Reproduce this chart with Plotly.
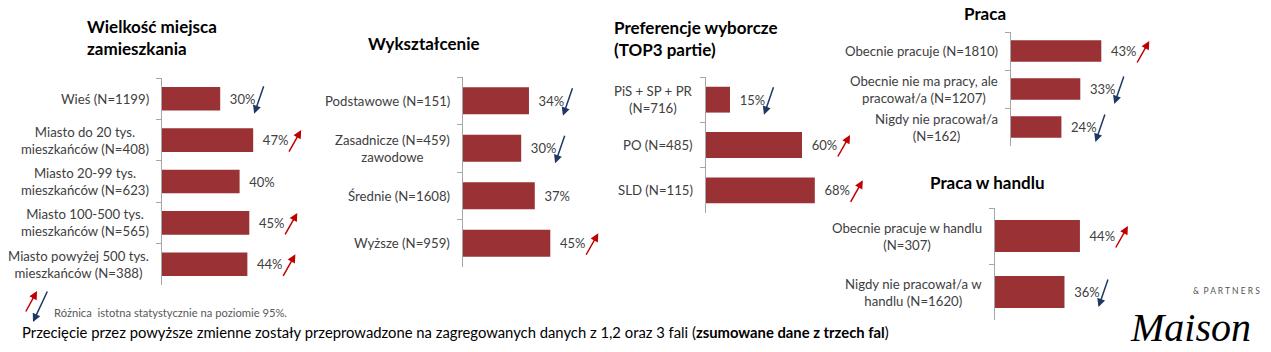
import plotly.graph_objects as go

# ---------------- data ----------------
p1_title = "Wielkość miejsca<br>zamieszkania"
p1_cats = ["Wieś (N=1199)", "Miasto do 20 tys.<br>mieszkańców (N=408)",
           "Miasto 20-99 tys.<br>mieszkańców (N=623)", "Miasto 100-500 tys.<br>mieszkańców (N=565)",
           "Miasto powyżej 500 tys.<br>mieszkańców (N=388)"]
p1_vals = [30, 47, 40, 45, 44]
p1_sig = ["down", "up", "", "up", "up"]

p2_title = "Wykształcenie"
p2_cats = ["Podstawowe (N=151)", "Zasadnicze (N=459)<br>zawodowe", "Średnie (N=1608)", "Wyższe (N=959)"]
p2_vals = [34, 30, 37, 45]
p2_sig = ["down", "down", "", "up"]

p3_title = "Preferencje wyborcze<br>(TOP3 partie)"
p3_cats = ["PiS + SP + PR<br>(N=716)", "PO (N=485)", "SLD (N=115)"]
p3_vals = [15, 60, 68]
p3_sig = ["down", "up", "up"]

p4_title = "Praca"
p4_cats = ["Obecnie pracuje (N=1810)", "Obecnie nie ma pracy, ale<br>pracował/a (N=1207)",
           "Nigdy nie pracował/a<br>(N=162)"]
p4_vals = [43, 33, 24]
p4_sig = ["up", "down", "down"]

p5_title = "Praca w handlu"
p5_cats = ["Obecnie pracuje w handlu<br>(N=307)", "Nigdy nie pracował/a w<br>handlu (N=1620)"]
p5_vals = [44, 36]
p5_sig = ["up", "down"]

legend_text = "Różnica  istotna statystycznie na poziomie 95%."
footer_text = ("Przecięcie przez powyższe zmienne zostały przeprowadzone na zagregowanych danych "
               "z 1,2 oraz 3 fali (<b>zsumowane dane z trzech fal</b>)")

# ---------------- style / layout ----------------
W, H = 1271, 352
FONT = "Lato"
BAR = "#9a3134"
TXT = "#404040"
RED = "#c00000"
BLUE = "#1f3864"
AXC = "#a6a6a6"

panels = [
    dict(title=p1_title, cats=p1_cats, vals=p1_vals, sig=p1_sig, x0=162, scale=1.94, xmax=70,
         ytop=78, ybot=285, tx=85, ty=14, talign="left", tanchor="top"),
    dict(title=p2_title, cats=p2_cats, vals=p2_vals, sig=p2_sig, x0=463, scale=1.94, xmax=70,
         ytop=77, ybot=267, tx=424, ty=43, talign="center", tanchor="middle"),
    dict(title=p3_title, cats=p3_cats, vals=p3_vals, sig=p3_sig, x0=706, scale=1.60, xmax=80,
         ytop=77, ybot=213, tx=612, ty=15, talign="left", tanchor="top"),
    dict(title=p4_title, cats=p4_cats, vals=p4_vals, sig=p4_sig, x0=1011, scale=2.10, xmax=60,
         ytop=32, ybot=146, tx=985, ty=1, talign="center", tanchor="top"),
    dict(title=p5_title, cats=p5_cats, vals=p5_vals, sig=p5_sig, x0=995, scale=1.93, xmax=65,
         ytop=208, ybot=320, tx=987, ty=182, talign="center", tanchor="middle"),
]

fig = go.Figure()
annotations = []

for i, p in enumerate(panels, start=1):
    xa = "x" if i == 1 else f"x{i}"
    ya = "y" if i == 1 else f"y{i}"
    n = len(p["cats"])
    fig.add_trace(go.Bar(
        x=p["vals"], y=p["cats"], orientation="h", xaxis=xa, yaxis=ya,
        marker=dict(color=BAR, line=dict(width=0)), width=0.57,
        text=[f"\u00a0\u00a0{v}%" for v in p["vals"]], textposition="outside",
        textfont=dict(family=FONT, size=13, color=TXT), cliponaxis=False,
        constraintext="none", showlegend=False, hoverinfo="skip"))
    x_dom = [p["x0"] / W, (p["x0"] + p["xmax"] * p["scale"]) / W]
    y_dom = [1 - p["ybot"] / H, 1 - p["ytop"] / H]
    kx = "xaxis" if i == 1 else f"xaxis{i}"
    ky = "yaxis" if i == 1 else f"yaxis{i}"
    fig.layout[kx] = dict(domain=x_dom, range=[0, p["xmax"]], visible=False, anchor=ya, fixedrange=True)
    fig.layout[ky] = dict(domain=y_dom, anchor=xa, type="category", categoryorder="array",
                          categoryarray=p["cats"], range=[n - 0.5, -0.5],
                          showline=True, linecolor=AXC, linewidth=1,
                          ticks="outside", tickson="boundaries", ticklen=5, tickcolor=AXC,
                          showticklabels=False, showgrid=False, zeroline=False, fixedrange=True)
    # category labels (centered multi-line, right of label at axis)
    for c in p["cats"]:
        annotations.append(dict(text=c, xref=f"{xa} domain", yref=ya, x=0, y=c,
                                xanchor="right", yanchor="middle", align="center",
                                xshift=-11, showarrow=False,
                                font=dict(family=FONT, size=13.2, color=TXT)))
    # significance arrows
    for c, v, s in zip(p["cats"], p["vals"], p["sig"]):
        if s == "up":
            annotations.append(dict(text="", xref=xa, yref=ya, x=v, y=c, xshift=48, yshift=10,
                                    ax=-13, ay=23, showarrow=True, arrowhead=2, arrowsize=1.1,
                                    arrowwidth=1.5, arrowcolor=RED))
        elif s == "down":
            annotations.append(dict(text="", xref=xa, yref=ya, x=v, y=c, xshift=34, yshift=-15,
                                    ax=10, ay=-29, showarrow=True, arrowhead=2, arrowsize=1.1,
                                    arrowwidth=1.5, arrowcolor=BLUE))
    # panel title
    annotations.append(dict(text=f"<b>{p['title']}</b>", xref="paper", yref="paper",
                            x=p["tx"] / W, y=1 - p["ty"] / H,
                            xanchor="left" if p["talign"] == "left" else "center",
                            yanchor=p["tanchor"],
                            align=p["talign"], showarrow=False,
                            font=dict(family=FONT, size=17, color="#000000")))

# legend arrows + text
annotations.append(dict(text="", xref="paper", yref="paper", x=37 / W, y=1 - 291 / H,
                        ax=-12, ay=22, showarrow=True, arrowhead=2, arrowsize=1.1,
                        arrowwidth=1.5, arrowcolor=RED))
annotations.append(dict(text="", xref="paper", yref="paper", x=33 / W, y=1 - 322 / H,
                        ax=15, ay=-32, showarrow=True, arrowhead=2, arrowsize=1.1,
                        arrowwidth=1.5, arrowcolor=BLUE))
annotations.append(dict(text=legend_text, xref="paper", yref="paper", x=52 / W, y=1 - 312 / H,
                        xanchor="left", yanchor="middle", showarrow=False,
                        font=dict(family=FONT, size=11.2, color="#595959")))
# footer
annotations.append(dict(text=footer_text, xref="paper", yref="paper", x=20 / W, y=1 - 332 / H,
                        xanchor="left", yanchor="middle", showarrow=False,
                        font=dict(family=FONT, size=14.8, color="#000000")))
# logo
annotations.append(dict(text="<i>Maison</i>", xref="paper", yref="paper", x=1190 / W, y=1 - 327 / H,
                        xanchor="center", yanchor="middle", showarrow=False,
                        font=dict(family="Liberation Serif", size=40, color="#000000")))
annotations.append(dict(text="&  P A R T N E R S", xref="paper", yref="paper", x=1262 / W, y=1 - 291 / H,
                        xanchor="right", yanchor="middle", showarrow=False,
                        font=dict(family=FONT, size=8.5, color="#555555")))

fig.update_layout(width=W, height=H, margin=dict(l=0, r=0, t=0, b=0),
                  paper_bgcolor="white", plot_bgcolor="rgba(0,0,0,0)",
                  annotations=annotations, showlegend=False,
                  font=dict(family=FONT, color=TXT))

fig.write_html("out.html", config={"displayModeBar": False})
